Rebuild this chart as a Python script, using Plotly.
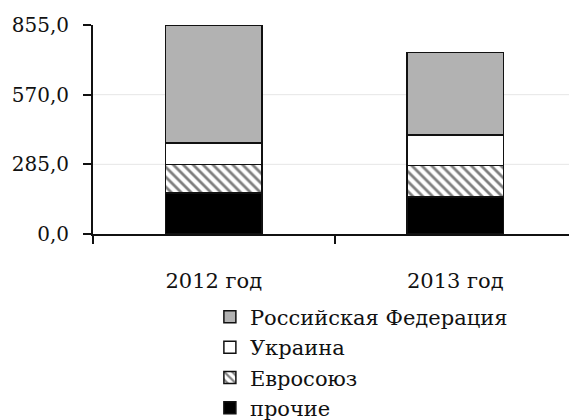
import plotly.graph_objects as go

categories = ["2012 год", "2013 год"]
series_names = ["прочие", "Евросоюз", "Украина", "Российская Федерация"]
prochie = [168, 152]
evrosoyuz = [117, 129]
ukraina = [88, 123]
rossiya = [482, 338]
y_ticks = [0, 285, 570, 855]

FONT = "DejaVu Serif"
FS = 20

fig = go.Figure()
fig.add_trace(go.Bar(name=series_names[0], x=categories, y=prochie,
                     marker=dict(color="black", line=dict(color="#111", width=1.5))))
fig.add_trace(go.Bar(name=series_names[1], x=categories, y=evrosoyuz,
                     marker=dict(color="white", line=dict(color="#111", width=1.5),
                                 pattern=dict(shape="\\", fgcolor="black", bgcolor="white",
                                              size=7, solidity=0.4))))
fig.add_trace(go.Bar(name=series_names[2], x=categories, y=ukraina,
                     marker=dict(color="white", line=dict(color="#111", width=1.5))))
fig.add_trace(go.Bar(name=series_names[3], x=categories, y=rossiya,
                     marker=dict(color="#b2b2b2", line=dict(color="#111", width=1.5))))

for g in y_ticks:
    if 0 < g < max(y_ticks):
        fig.add_shape(type="line", xref="paper", yref="y", x0=0, x1=1, y0=g, y1=g,
                      line=dict(color="#e6e6e6", width=1), layer="below")

fig.update_layout(
    width=577, height=420,
    margin=dict(l=85, r=9, t=17, b=194, autoexpand=False),
    paper_bgcolor="white", plot_bgcolor="white",
    barmode="stack", bargap=0.6,
    separators=", ",
    font=dict(family=FONT, size=FS, color="#111"),
    showlegend=True,
    legend=dict(traceorder="reversed", x=0.242, y=-0.30, xanchor="left", yanchor="top",
                font=dict(family=FONT, size=21, color="#111"),
                bgcolor="rgba(0,0,0,0)", borderwidth=0, tracegroupgap=0,
                itemwidth=30),
)
fig.update_yaxes(range=[0, 855], tickvals=y_ticks, tickformat=".1f",
                 showgrid=False, zeroline=False, automargin=False,
                 showline=True, linecolor="#111", linewidth=2,
                 ticks="outside", ticklen=8, tickwidth=2, tickcolor="#111",
                 ticklabelstandoff=10, tickfont=dict(family=FONT, size=FS, color="#111"))
fig.update_xaxes(showgrid=False, showline=True, linecolor="#111", linewidth=2,
                 automargin=False,
                 ticks="outside", tickson="boundaries", ticklen=8, tickwidth=2, tickcolor="#111",
                 ticklabelstandoff=27, tickfont=dict(family=FONT, size=21, color="#111"))

fig.write_html("out.html")
